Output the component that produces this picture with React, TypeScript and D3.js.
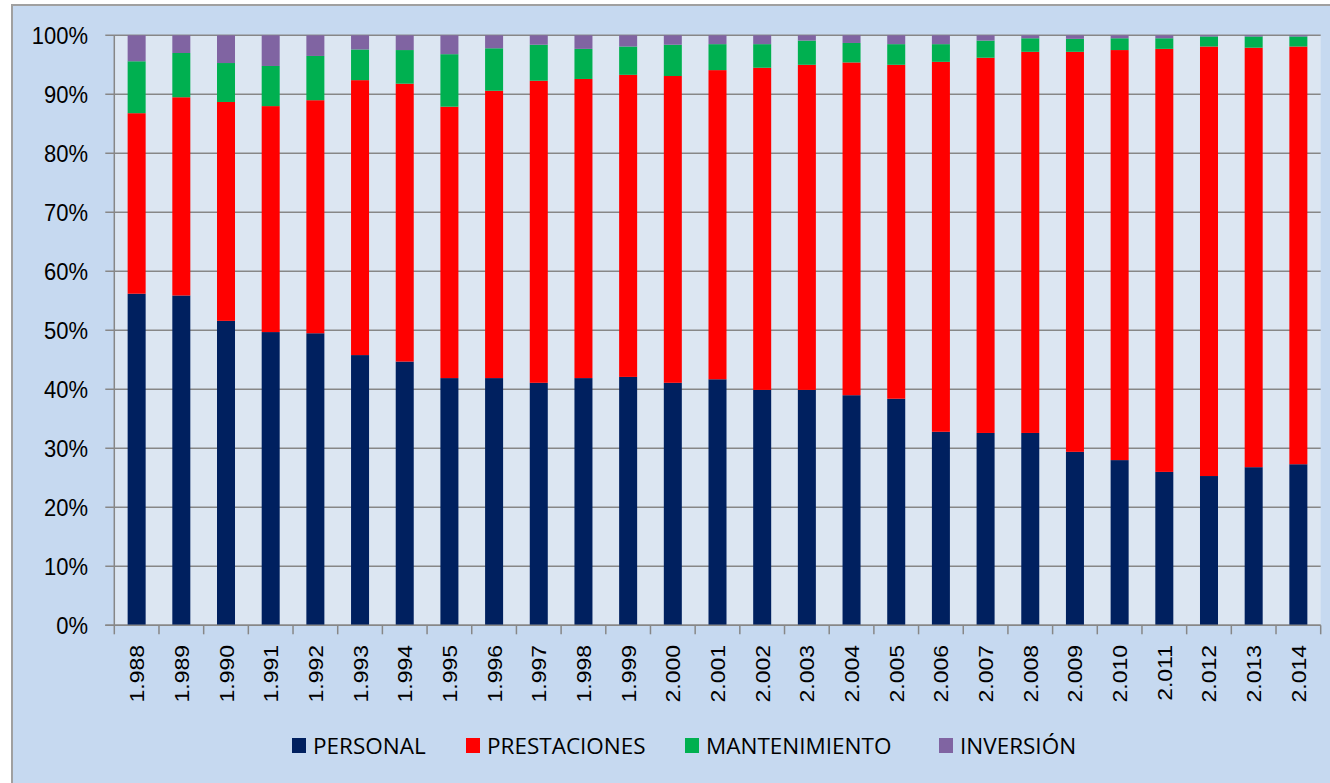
import React from 'react';
import * as d3 from 'd3';

// años y participación (%) de cada rubro
const years = [1988, 1989, 1990, 1991, 1992, 1993, 1994, 1995, 1996, 1997, 1998, 1999, 2000, 2001,
  2002, 2003, 2004, 2005, 2006, 2007, 2008, 2009, 2010, 2011, 2012, 2013, 2014];

const personal = [56.2, 55.9, 51.6, 49.7, 49.5, 45.8, 44.7, 41.9, 41.9, 41.1, 41.9, 42.1, 41.1, 41.7,
  39.9, 39.9, 39.0, 38.4, 32.8, 32.6, 32.6, 29.4, 28.0, 26.0, 25.3, 26.8, 27.3];
const prestaciones = [30.6, 33.6, 37.1, 38.3, 39.5, 46.6, 47.1, 46.0, 48.7, 51.2, 50.7, 51.2, 52.0, 52.4,
  54.6, 55.1, 56.4, 56.6, 62.7, 63.6, 64.6, 67.8, 69.5, 71.7, 72.8, 71.1, 70.8];
const mantenimiento = [8.8, 7.5, 6.6, 6.8, 7.5, 5.2, 5.7, 8.9, 7.2, 6.1, 5.1, 4.8, 5.3, 4.4,
  4.0, 4.1, 3.3, 3.5, 3.0, 2.9, 2.3, 2.2, 2.0, 1.8, 1.7, 1.9, 1.7];
const inversion = [4.4, 3.0, 4.7, 5.2, 3.5, 2.4, 2.5, 3.2, 2.2, 1.6, 2.3, 1.9, 1.6, 1.5,
  1.5, 0.9, 1.3, 1.5, 1.5, 0.9, 0.5, 0.6, 0.5, 0.5, 0.2, 0.2, 0.2];

const seriesNames = ['PERSONAL', 'PRESTACIONES', 'MANTENIMIENTO', 'INVERSIÓN'];
const seriesColors = ['#00205f', '#ff0000', '#00b050', '#8064a2'];
const yTicks = [0, 0.1, 0.2, 0.3, 0.4, 0.5, 0.6, 0.7, 0.8, 0.9, 1];

// posiciones de la leyenda (x del cuadro)
const legendX = [292, 466, 685, 939];

export default function App() {
  const width = 1330, height = 783;
  const left = 114.3, right = 1320.7, top = 35.3, bottom = 625.3;

  const rows = years.map((y, i) => ({
    year: y,
    PERSONAL: personal[i],
    PRESTACIONES: prestaciones[i],
    MANTENIMIENTO: mantenimiento[i],
    'INVERSIÓN': inversion[i],
  }));

  const stack = d3.stack<any>().keys(seriesNames).offset(d3.stackOffsetExpand);
  const layers = stack(rows);

  const x = d3.scaleBand<number>().domain(years).range([left, right]).paddingInner(0).paddingOuter(0);
  const y = d3.scaleLinear().domain([0, 1]).range([bottom, top]);
  const barW = x.bandwidth() * 0.403;
  const fmtYear = (v: number) => d3.format(',')(v).replace(',', '.');

  const font = '"Liberation Sans", Arial, sans-serif';

  return (
    <svg width={width} height={height} style={{ position: 'absolute', left: 0, top: 0, display: 'block' }}>
      <rect x={0} y={0} width={width} height={height} fill="#ffffff" />
      <rect x={12} y={5} width={width} height={height} fill="#c6d9f0" stroke="#a0a0a0" strokeWidth={2} />
      <rect x={left} y={top} width={right - left} height={bottom - top} fill="#dce6f2" />

      {/* grid lines */}
      {yTicks.map(t => (
        <line key={t} x1={left - 9} x2={right} y1={y(t)} y2={y(t)} stroke="#878787" strokeWidth={1.5} />
      ))}
      <line x1={left} x2={left} y1={top} y2={bottom} stroke="#878787" strokeWidth={1.5} />

      {/* bars */}
      {layers.map((layer, si) => (
        <g key={layer.key} fill={seriesColors[si]}>
          {layer.map((d, i) => (
            <rect key={i}
              x={(x(years[i]) as number) + (x.bandwidth() - barW) / 2}
              y={y(d[1])}
              width={barW}
              height={y(d[0]) - y(d[1])} />
          ))}
        </g>
      ))}

      {/* x axis */}
      <line x1={left - 9} x2={right} y1={bottom} y2={bottom} stroke="#878787" strokeWidth={1.5} />
      {years.map(v => (
        <line key={'t' + v} x1={x(v)} x2={x(v)} y1={bottom} y2={bottom + 9} stroke="#878787" strokeWidth={1.5} />
      ))}
      <line x1={right} x2={right} y1={bottom} y2={bottom + 9} stroke="#878787" strokeWidth={1.5} />
      {years.map(v => {
        const cx = (x(v) as number) + x.bandwidth() / 2 + 7.5;
        return (
          <text key={'l' + v} transform={`translate(${cx},${645}) rotate(-90) scale(1.15,1.05)`}
            textAnchor="end" fontFamily={font} fontSize={20} fill="#000">{fmtYear(v)}</text>
        );
      })}

      {/* y axis labels */}
      {yTicks.map(t => (
        <text key={'y' + t} x={88} y={y(t) + 8} textAnchor="end" fontFamily={font} fontSize={22}
          transform={`translate(0,${y(t)}) scale(1,1.12) translate(0,${-y(t)})`}
          fill="#000">{Math.round(t * 100) + '%'}</text>
      ))}

      {/* legend */}
      {seriesNames.map((n, i) => (
        <g key={n}>
          <rect x={legendX[i]} y={738} width={14} height={15} fill={seriesColors[i]} />
          <text x={legendX[i] + 21} y={754} fontFamily='"Open Sans", "Liberation Sans", sans-serif' fontSize={22.5}
            fill="#000">{n}</text>
        </g>
      ))}
    </svg>
  );
}
